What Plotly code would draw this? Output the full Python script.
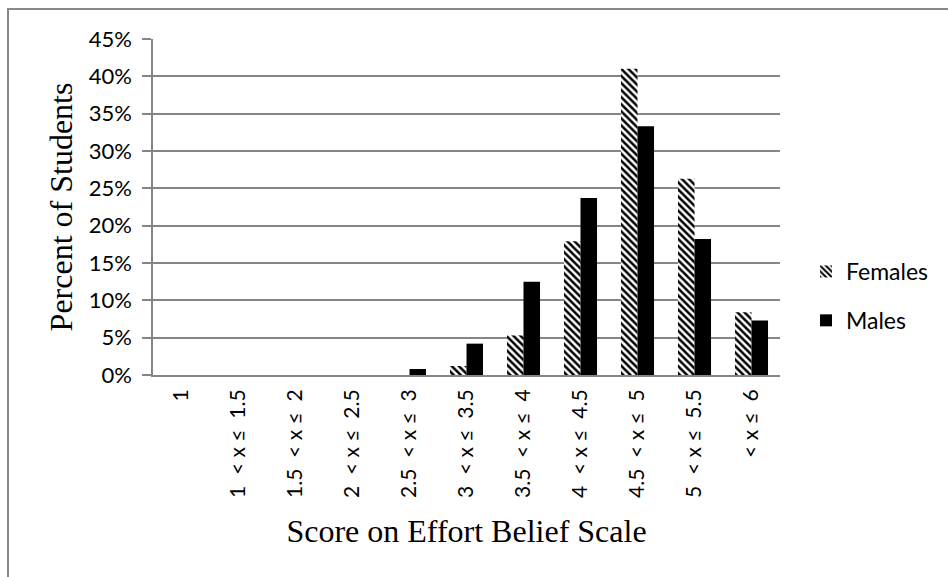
import plotly.graph_objects as go

NB = "\u00a0"
categories = ["1", "1 < x ≤ 1.5", "1.5 < x ≤ 2", "2 < x ≤ 2.5", "2.5 < x ≤ 3",
              "3 < x ≤ 3.5", "3.5 < x ≤ 4", "4 < x ≤ 4.5", "4.5 < x ≤ 5",
              "5 < x ≤ 5.5", "< x ≤ 6"]
females = [0.0, 0.0, 0.0, 0.0, 0.0, 0.012, 0.053, 0.179, 0.410, 0.263, 0.084]
males = [0.0, 0.0, 0.0, 0.0, 0.008, 0.042, 0.125, 0.237, 0.333, 0.182, 0.073]


def widen(label):
    # wide spacing as in the original (non-collapsing spaces)
    out = label.replace(" < ", NB * 2 + "<" + NB)
    if out.startswith("< "):
        out = "<" + NB + out[2:]
    out = out.replace(" ≤ ", NB + "≤" + NB * 2)
    return out.replace(" ", NB)


tick_text = [widen(c) for c in categories]

W, H = 948, 577
L, R, T, B = 153, 780, 39, 375
pw, ph = R - L, B - T


def px(x):
    return (x - L) / pw


def py(y):
    return (B - y) / ph


fig = go.Figure()
fig.add_trace(go.Bar(
    x=categories, y=females, name="Females", legendgroup="f",
    marker=dict(color="white", line=dict(width=0),
                pattern=dict(shape="\\", fgcolor="black", bgcolor="white",
                             size=5, solidity=0.5, fillmode="replace")),
))
fig.add_trace(go.Bar(
    x=categories, y=males, name="Males", legendgroup="m",
    marker=dict(color="black", line=dict(width=0)),
))

grid = "#868686"
fig.update_layout(
    width=W, height=H,
    margin=dict(l=L, r=W - R, t=T, b=H - B, autoexpand=False),
    paper_bgcolor="white", plot_bgcolor="white",
    barmode="group", bargap=0.42, bargroupgap=0,
    font=dict(family="Lato", color="black"),
    showlegend=True,
    legend=dict(x=px(806), y=py(250), xanchor="left", yanchor="top",
                font=dict(family="Lato", size=23, color="black"),
                tracegroupgap=16, itemwidth=30, bgcolor="rgba(0,0,0,0)"),
    xaxis=dict(
        tickangle=-90, tickfont=dict(family="Lato", size=21),
        tickmode="array", tickvals=categories, ticktext=tick_text,
        showline=True, linecolor=grid, linewidth=2,
        ticks="", showgrid=False, ticklabelstandoff=4,
        title=dict(text="Score on Effort Belief Scale",
                   font=dict(family="Liberation Serif", size=32), standoff=23),
    ),
    yaxis=dict(
        range=[0, 0.45], dtick=0.05, tickformat=".0%",
        tickfont=dict(family="Lato", size=22),
        showline=True, linecolor=grid, linewidth=1.5,
        ticks="outside", ticklen=9, tickcolor=grid, tickwidth=1.5,
        showgrid=True, gridcolor=grid, gridwidth=1.5,
        zeroline=False, ticklabelstandoff=6,
        title=dict(text="Percent of Students",
                   font=dict(family="Liberation Serif", size=32), standoff=6),
    ),
)

# outer chart border (extends beyond visible area on right/bottom)
fig.add_shape(type="rect", xref="paper", yref="paper",
              x0=px(8), y0=py(590), x1=px(960), y1=py(9),
              line=dict(color="#888888", width=2), fillcolor="rgba(0,0,0,0)",
              layer="below")

fig.write_html("out.html", config={"displayModeBar": False},
               post_script="document.body.style.margin='0';")
